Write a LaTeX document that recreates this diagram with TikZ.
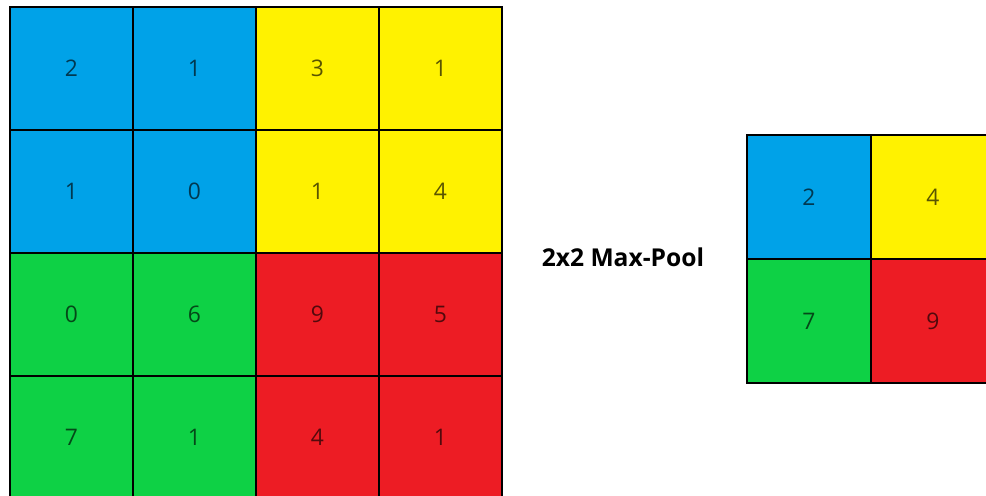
\documentclass[tikz,border=0pt]{standalone}
\usepackage{fontspec}
\setmainfont{Open Sans}
\usepackage{tikz}
\definecolor{pool-blue}{RGB}{0,162,232}
\definecolor{pool-yellow}{RGB}{255,242,0}
\definecolor{pool-green}{RGB}{14,209,69}
\definecolor{pool-red}{RGB}{237,28,36}

\tikzset{
    cell/.style={draw=black, line width=0.9pt, inner sep=0pt, font=\fontsize{13}{15}\selectfont, text=black, text opacity=0.65},
    incell/.style={cell, minimum size=2.46cm},
    outcell/.style={cell, minimum size=2.48cm},
}

\begin{document}
\begin{tikzpicture}[x=0.02cm, y=-0.02cm]
    \useasboundingbox (0,0) rectangle (986,496);
    \clip (0,0) rectangle (986,496);

    \foreach \r/\c/\v/\col in {
        0/0/2/pool-blue, 0/1/1/pool-blue, 0/2/3/pool-yellow, 0/3/1/pool-yellow,
        1/0/1/pool-blue, 1/1/0/pool-blue, 1/2/1/pool-yellow, 1/3/4/pool-yellow,
        2/0/0/pool-green, 2/1/6/pool-green, 2/2/9/pool-red, 2/3/5/pool-red,
        3/0/7/pool-green, 3/1/1/pool-green, 3/2/4/pool-red, 3/3/1/pool-red}
        \node[incell, fill=\col] (in\r\c) at (71.5+123*\c, 68.5+123*\r) {\v};

    \node[font=\fontsize{14}{16}\selectfont\bfseries] (poollabel) at (623,257) {2x2 Max-Pool};

    \foreach \r/\c/\v/\col in {
        0/0/2/pool-blue, 0/1/4/pool-yellow,
        1/0/7/pool-green, 1/1/9/pool-red}
        \node[outcell, fill=\col] (out\r\c) at (809+124*\c, 197+124*\r) {\v};
\end{tikzpicture}
\end{document}
